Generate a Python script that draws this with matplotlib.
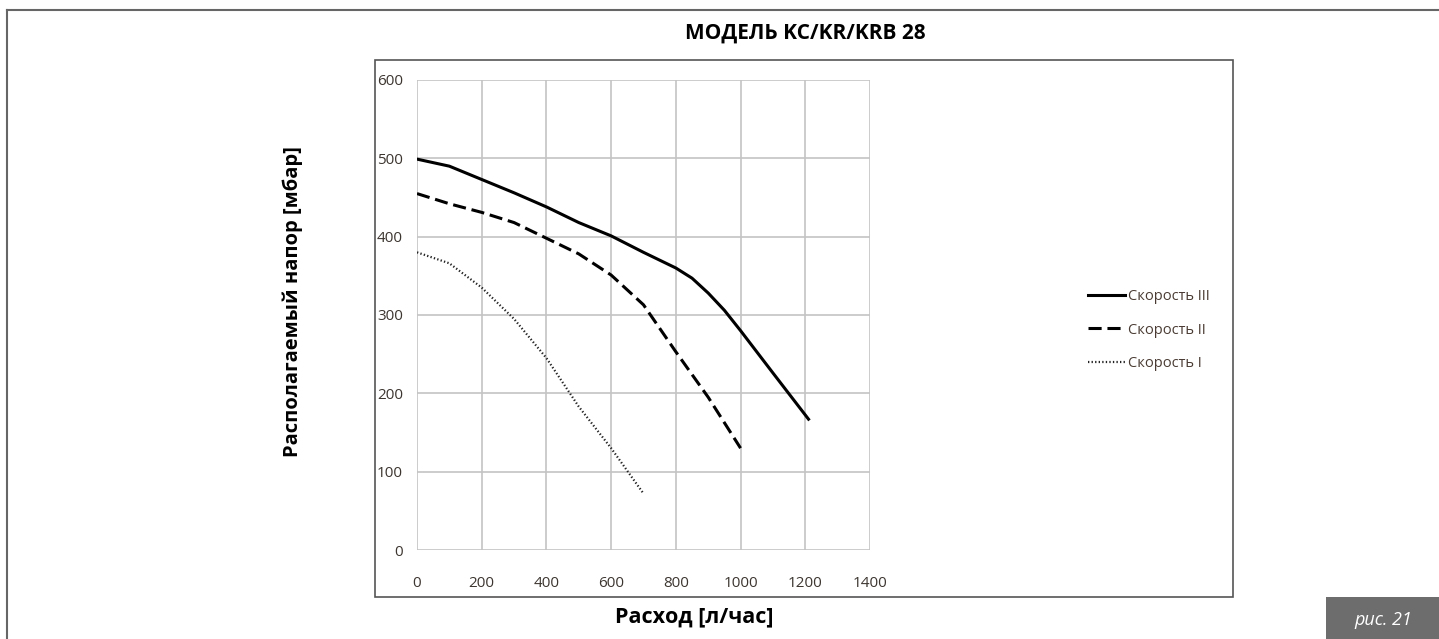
import matplotlib.pyplot as plt
from matplotlib.patches import Rectangle
from matplotlib.lines import Line2D

plt.rcParams["font.family"] = ["Open Sans", "DejaVu Sans"]

# Speed III (solid)
flow_3 = [0, 100, 200, 300, 400, 500, 600, 700, 800, 850, 900, 950, 1000, 1100, 1210]
head_3 = [499, 490, 473, 456, 438, 418, 401, 380, 360, 347, 328, 306, 280, 226, 167]

# Speed II (dashed)
flow_2 = [0, 100, 200, 300, 400, 500, 600, 700, 800, 900, 1000]
head_2 = [455, 442, 431, 418, 398, 378, 351, 313, 253, 195, 130]

# Speed I (dotted)
flow_1 = [0, 100, 200, 300, 400, 500, 600, 700]
head_1 = [380, 366, 335, 295, 245, 183, 130, 72]

labels = ["Скорость III", "Скорость II", "Скорость I"]
x_ticks = [0, 200, 400, 600, 800, 1000, 1200, 1400]
y_ticks = [0, 100, 200, 300, 400, 500, 600]

W, H = 1439, 639
fig = plt.figure(figsize=(W / 100, H / 100), dpi=100)


def fx(px):
    return px / W


def fy(py):
    return 1 - py / H


ax = fig.add_axes([fx(417), fy(550), fx(870) - fx(417), fy(80) - fy(550)])

DASH = (4.3, 1.9)
DOT = (0.6, 1.0)

ax.plot(flow_3, head_3, color="black", lw=2.2, solid_joinstyle="round")
ax.plot(flow_2, head_2, color="black", lw=2.2, dashes=DASH)
ax.plot(flow_1, head_1, color="#222222", lw=1.6, dashes=DOT)

ax.set_xlim(0, 1400)
ax.set_ylim(0, 600)
ax.set_xticks(x_ticks)
ax.set_yticks(y_ticks)
ax.grid(True, color="#c4c4c4", lw=1.2)
ax.set_axisbelow(True)
for sp in ax.spines.values():
    sp.set_visible(False)
ax.tick_params(length=0, labelsize=11, labelcolor="#3c3530")
ax.tick_params(axis="x", pad=19)
ax.tick_params(axis="y", pad=10)

# legend
handles = [
    Line2D([], [], color="black", lw=2.2),
    Line2D([], [], color="black", lw=2.2, dashes=DASH),
    Line2D([], [], color="#222222", lw=1.6, dashes=DOT),
]
fig.legend(
    handles,
    labels,
    loc="center left",
    bbox_to_anchor=(fx(1075), fy(330)),
    frameon=False,
    fontsize=10.5,
    labelcolor="#4a3c34",
    handlelength=2.5,
    handletextpad=0.2,
    labelspacing=1.25,
)

# inner chart box
fig.patches.append(
    Rectangle((fx(375), fy(597)), fx(1233) - fx(375), fy(60) - fy(597),
              transform=fig.transFigure, fill=False, edgecolor="#555555", lw=1.2)
)

# outer frame (top and left)
fig.lines.append(Line2D([fx(7), 1], [fy(10), fy(10)], transform=fig.transFigure,
                        color="#666666", lw=1.5))
fig.lines.append(Line2D([fx(7), fx(7)], [0, fy(10)], transform=fig.transFigure,
                        color="#666666", lw=1.5))

fig.text(fx(805), fy(33), "МОДЕЛЬ KC/KR/KRB 28", ha="center", va="center",
         fontsize=15, fontweight="bold")
fig.text(fx(293), fy(302), "Располагаемый напор [мбар]", ha="center", va="center",
         rotation=90, fontsize=14.5, fontweight="bold")
fig.text(fx(694), fy(617), "Расход [л/час]", ha="center", va="center",
         fontsize=15.5, fontweight="bold")

# figure tag
fig.patches.append(
    Rectangle((fx(1326), 0), 1 - fx(1326), fy(597), transform=fig.transFigure,
              facecolor="#6d6d6d", edgecolor="none")
)
fig.text(fx(1383), fy(620), "рис. 21", ha="center", va="center",
         fontsize=13, style="italic", color="white")

fig.savefig("out.png", dpi=100)
